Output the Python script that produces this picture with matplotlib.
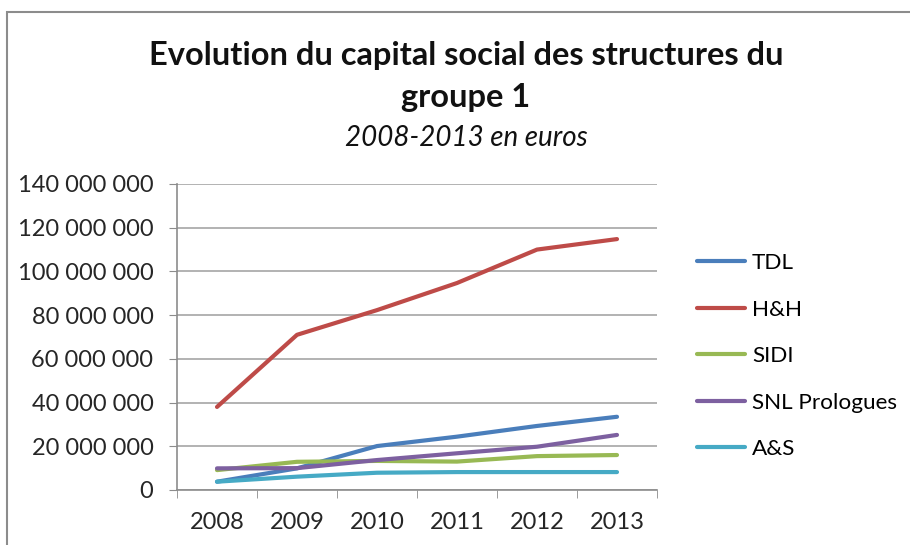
import matplotlib.pyplot as plt
from matplotlib.patches import Rectangle
from matplotlib.ticker import FuncFormatter, MultipleLocator

years = ["2008", "2009", "2010", "2011", "2012", "2013"]
tdl = [3.8e6, 9.9e6, 20.1e6, 24.4e6, 29.3e6, 33.5e6]
hh = [38e6, 71e6, 82.3e6, 94.7e6, 110e6, 114.8e6]
sidi = [9.1e6, 12.9e6, 13.3e6, 13.0e6, 15.5e6, 16.0e6]
snl = [9.9e6, 10.0e6, 13.7e6, 16.8e6, 19.8e6, 25.2e6]
a_s = [3.8e6, 6.1e6, 7.9e6, 8.2e6, 8.2e6, 8.2e6]
series_names = ["TDL", "H&H", "SIDI", "SNL Prologues", "A&S"]
colors = ["#4A7EBB", "#BE4B48", "#98B954", "#7D60A0", "#46AAC5"]

plt.rcParams['font.family'] = ['Lato', 'DejaVu Sans']

fig = plt.figure(figsize=(9.1, 5.45), dpi=100)
fig.patches.append(Rectangle((7 / 910, -0.05), 1.0, 1 - 12 / 545 + 0.05, transform=fig.transFigure,
                             fill=False, edgecolor="#8c8c8c", linewidth=1.5))

ax = fig.add_axes([177 / 910, 1 - 490 / 545, 480 / 910, 306 / 545])
x = list(range(len(years)))
for vals, name, c in zip([tdl, hh, sidi, snl, a_s], series_names, colors):
    ax.plot(x, vals, color=c, linewidth=3.0, label=name, solid_capstyle='round')

ax.set_xlim(-0.5, 5.5)
ax.set_ylim(0, 140e6)
ax.yaxis.set_major_locator(MultipleLocator(20e6))
ax.yaxis.set_major_formatter(FuncFormatter(lambda v, p: f"{int(v):,}".replace(",", " ")))
ax.set_xticks(x)
ax.set_xticklabels(years)
ax.set_xticks([i - 0.5 for i in range(len(years) + 1)], minor=True)
ax.tick_params(axis='x', which='major', length=0, labelsize=17, pad=16, labelcolor="#262626")
ax.tick_params(axis='x', which='minor', length=6, color="#8c8c8c")
ax.tick_params(axis='y', length=6, color="#8c8c8c", labelsize=17, pad=11, labelcolor="#262626")
ax.grid(axis='y', color="#a6a6a6", linewidth=1.2)
ax.set_axisbelow(True)
for s in ["top", "right"]:
    ax.spines[s].set_visible(False)
for s in ["left", "bottom"]:
    ax.spines[s].set_color("#8c8c8c")
    ax.spines[s].set_linewidth(1.2)

fig.legend(loc="upper left", bbox_to_anchor=(697 / 910, 1 - 253 / 545), frameon=False,
           fontsize=16.2, handlelength=2.15, handletextpad=0.3, labelspacing=1.18,
           borderpad=0, borderaxespad=0)

fig.text(466 / 910, 1 - 55 / 545, "Evolution du capital social des structures du",
         ha="center", va="center", fontsize=23.5, fontweight="bold", color="#111111")
fig.text(466 / 910, 1 - 97 / 545, "groupe 1",
         ha="center", va="center", fontsize=23.5, fontweight="bold", color="#111111")
fig.text(466 / 910, 1 - 138 / 545, "2008-2013 en euros",
         ha="center", va="center", fontsize=20, fontstyle="italic", color="#111111")

fig.savefig("out.png", dpi=100)
